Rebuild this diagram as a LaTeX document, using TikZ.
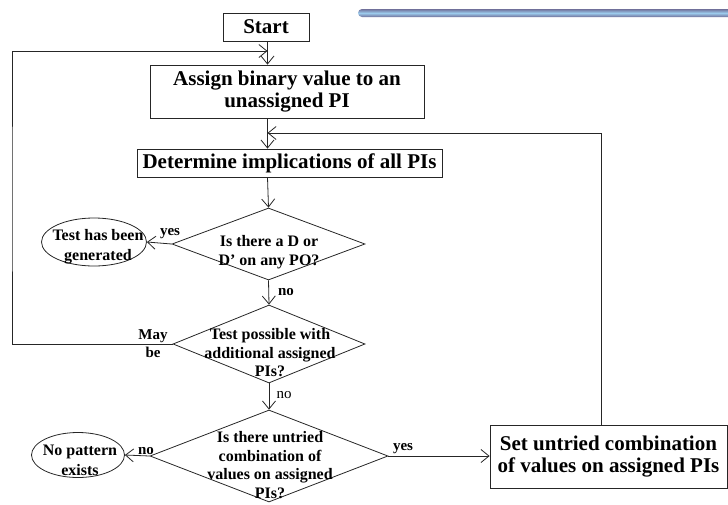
\documentclass[tikz,border=0pt]{standalone}
\usepackage{fontspec}
\setmainfont{Liberation Serif}
\usetikzlibrary{arrows.meta,shapes.geometric}
\definecolor{ink}{HTML}{262626}
\definecolor{barmid}{HTML}{9CCBEC}
\definecolor{baredge}{HTML}{70709A}
\begin{document}
\begin{tikzpicture}[x=1pt,y=-1pt,
  box/.style={draw=ink, line width=0.8pt, rectangle, inner sep=0pt, align=center,
    font=\bfseries\fontsize{21}{22.5}\selectfont},
  dia/.style={draw=ink, line width=0.8pt, diamond, inner sep=0pt},
  oval/.style={draw=ink, line width=0.8pt, ellipse, inner sep=0pt},
  dtext/.style={align=center, inner sep=0pt, font=\bfseries\fontsize{16}{18.5}\selectfont},
  otext/.style={align=center, inner sep=0pt, font=\bfseries\fontsize{16}{20}\selectfont},
  lab/.style={inner sep=0pt, font=\bfseries\fontsize{15}{18}\selectfont},
  labn/.style={inner sep=0pt, font=\fontsize{15}{18}\selectfont},
  arr/.style={draw=ink, line width=0.8pt, -{Straight Barb[length=8pt,width=13pt]}},
  wire/.style={draw=ink, line width=0.8pt}
]
\useasboundingbox (0,0) rectangle (728,504);

% decorative title bar
\shade[top color=baredge, bottom color=baredge, middle color=barmid, rounded corners=4pt]
  (358,9) rectangle (745,17);

% process boxes
\node[box, minimum width=86, minimum height=28] (start) at (266,27) {Start};
\node[box, minimum width=274, minimum height=53] (assign) at (287,91.5)
  {Assign binary value to an\\unassigned PI};
\node[box, minimum width=305, minimum height=28] (det) at (289.5,163)
  {Determine implications of all PIs};
\node[box, minimum width=237, minimum height=63] (set) at (608.5,456.5)
  {Set untried combination\\of values on assigned PIs};

% decisions
\node[dia, minimum width=193, minimum height=72] (d1) at (268.5,244) {};
\node[dtext] (d1t) at (269,252) {Is there a D or\\D’ on any PO?};
\node[dia, minimum width=192, minimum height=78] (d2) at (269,344) {};
\node[dtext] (d2t) at (270,353) {Test possible with\\additional assigned\\PIs?};
\node[dia, minimum width=238, minimum height=92] (d3) at (269,456) {};
\node[dtext] (d3t) at (270,465) {Is there untried\\combination of\\values on assigned\\PIs?};

% terminal ovals
\node[oval, minimum width=105, minimum height=48] (e1) at (94,242) {};
\node[otext] (e1t) at (98,247) {Test has been\\generated};
\node[oval, minimum width=93, minimum height=45] (e2) at (78,455) {};
\node[otext] (e2t) at (80,460) {No pattern\\exists};

% junction points of the loops
\coordinate (spine) at (267.5,0);
\coordinate (topin) at (267.5,51);
\coordinate (backin) at (267.5,133);
\coordinate (lft) at (12,200);
\coordinate (rgt) at (601,200);

% main flow
\draw[arr] (start.south -| spine) -- (assign.north -| spine);
\draw[arr] (assign.south -| spine) -- (det.north -| spine);
\draw[arr] (det.south -| spine) -- (d1.north);
\draw[arr] (d1.south) -- (d2.north);
\draw[arr] (d2.south) -- (d3.north);
\draw[arr] (d1.west) -- (e1.east);
\draw[arr] (d3.west) -- (e2.east);
\draw[arr] (d3.east) -- (d3.east -| set.west);

% loops back to the top
\draw[arr] (d2.west) -| (lft) |- (topin);
\draw[arr] (set.north -| rgt) |- (backin);

% branch labels
\node[lab] (l1) at (170,234) {yes};
\node[lab] (l2) at (286,292) {no};
\node[labn] (l3) at (284,395) {no};
\node[lab] (l4) at (146,451) {no};
\node[lab] (l5) at (403,449) {yes};
\node[lab, align=center, font=\bfseries\fontsize{15}{18}\selectfont] (l6) at (153,344) {May\\be};
\end{tikzpicture}
\end{document}
